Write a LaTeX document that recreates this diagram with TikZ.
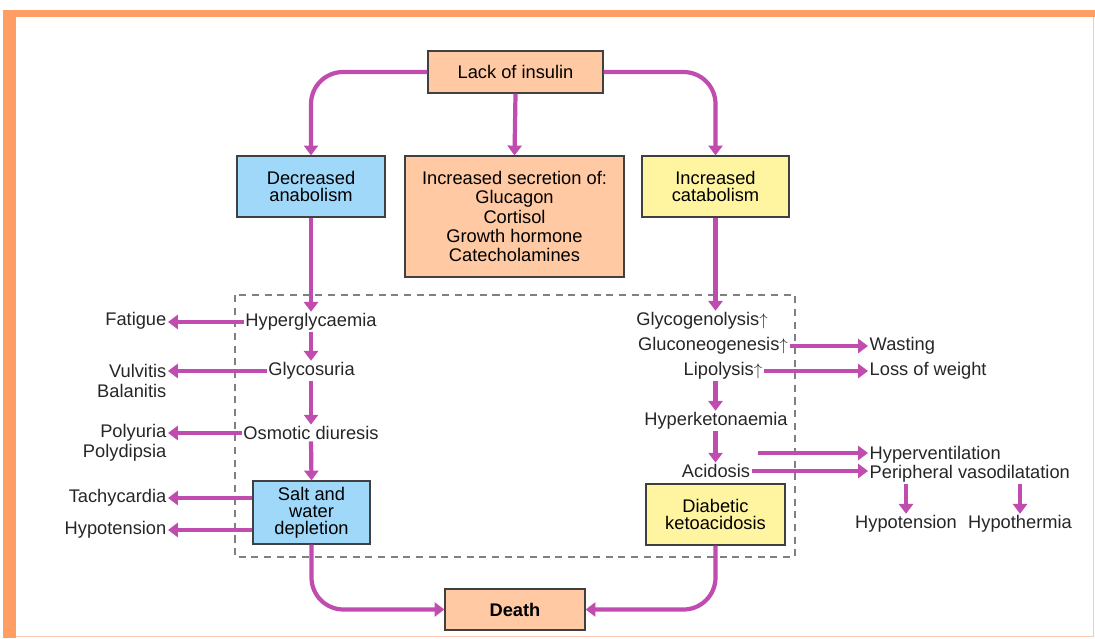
\documentclass[tikz,border=0pt]{standalone}
\usepackage{fontspec}
\setmainfont{Liberation Sans}
\usetikzlibrary{positioning, arrows.meta}

\definecolor{peach}{RGB}{255,201,163}
\definecolor{skyblue}{RGB}{160,216,250}
\definecolor{paleyellow}{RGB}{255,244,160}
\definecolor{arrowpink}{RGB}{192,76,176}
\definecolor{frameorange}{RGB}{255,158,100}
\definecolor{framepale}{RGB}{250,200,180}

\tikzset{
  box/.style={draw=black!75, line width=0.8pt, align=center, inner sep=0pt,
    font=\fontsize{13}{12}\selectfont},
  arr/.style={draw=arrowpink, line width=3pt, -{Triangle[length=7pt,width=10pt]}},
  lbl/.style={inner sep=1pt, font=\fontsize{13}{14.2}\selectfont, align=center, text=black!85},
  dashbox/.style={draw=black!50, line width=0.9pt, dash pattern=on 5pt off 4pt}
}

\begin{document}
\begin{tikzpicture}[x=0.025cm,y=-0.025cm]
  \useasboundingbox (0,0) rectangle (1095,638);
  % frame
  \fill[frameorange] (3,10) rectangle (1095,17);
  \fill[frameorange] (3,10) rectangle (16,638);
  \draw[framepale, line width=0.6pt] (1093,17) -- (1093,636) -- (16,636);

  % boxes
  \node[box, fill=peach, minimum width=4.375cm, minimum height=1.05cm] (lack) at (515.5,72) {Lack of insulin};
  \node[box, fill=skyblue, minimum width=3.7cm, minimum height=1.525cm] (dec) at (311,186.5) {Decreased\\anabolism};
  \node[box, fill=peach, minimum width=5.475cm, minimum height=3.025cm,
    font=\fontsize{13}{13.8}\selectfont] (sec) at (514.5,216.5)
    {Increased secretion of:\\Glucagon\\Cortisol\\Growth hormone\\Catecholamines};
  \node[box, fill=paleyellow, minimum width=3.675cm, minimum height=1.525cm] (cat) at (715.5,186.5) {Increased\\catabolism};
  \node[box, fill=skyblue, minimum width=2.925cm, minimum height=1.575cm] (salt) at (311.5,512.5) {Salt and\\water\\depletion};
  \node[box, fill=paleyellow, minimum width=3.475cm, minimum height=1.525cm] (dka) at (715.5,514.5) {Diabetic\\ketoacidosis};
  \node[box, fill=peach, minimum width=3.5cm, minimum height=1.025cm, font=\fontsize{13}{14}\bfseries] (death) at (515,609.5) {Death};

  \draw[dashbox] (235,295) rectangle (795,557);

  % left column
  \node[lbl] (hyperg) at (311,322) {Hyperglycaemia};
  \node[lbl] (glycos) at (311.5,371) {Glycosuria};
  \node[lbl] (osmo) at (311,433) {Osmotic diuresis};
  \node[lbl, anchor=east] (fatigue) at (168,321) {Fatigue};
  \node[lbl, anchor=east, align=right] (vulv) at (168,381) {Vulvitis\\Balanitis};
  \node[lbl, anchor=east, align=right] (poly) at (168,443) {Polyuria\\Polydipsia};
  \node[lbl, anchor=east] (tachy) at (168,498) {Tachycardia};
  \node[lbl, anchor=east] (hypoa) at (168,530) {Hypotension};

  % right column
  \node[lbl] (glycogen) at (702,321) {Glycogenolysis$\uparrow$};
  \node[lbl] (gluco) at (713,346) {Gluconeogenesis$\uparrow$};
  \node[lbl] (lipo) at (723,371) {Lipolysis$\uparrow$};
  \node[lbl] (hyperk) at (716,421) {Hyperketonaemia};
  \node[lbl] (acid) at (716,471) {Acidosis};
  \node[lbl, anchor=west] (wasting) at (868,346) {Wasting};
  \node[lbl, anchor=west] (loss) at (868,371) {Loss of weight};
  \node[lbl, anchor=west] (hypervent) at (868,455) {Hyperventilation};
  \node[lbl, anchor=west] (periph) at (868,474) {Peripheral vasodilatation};
  \node[lbl] (hypob) at (906,524) {Hypotension};
  \node[lbl] (hypotherm) at (1020,524) {Hypothermia};
  \coordinate (hv) at (758,453);

  % connectors from the top
  \draw[arr, rounded corners=0.8cm] (lack.west) -| (dec.north);
  \draw[arr] (lack.south) -- (sec.north);
  \draw[arr, rounded corners=0.8cm] (lack.east) -| (cat.north);

  % anabolism chain
  \draw[arr] (dec.south) -- (dec.south |- hyperg.north);
  \draw[arr] (hyperg.south -| dec.south) -- (glycos.north -| dec.south);
  \draw[arr] (glycos.south -| dec.south) -- (osmo.north -| dec.south);
  \draw[arr] (osmo.south -| dec.south) -- (salt.north);
  \draw[arr] (hyperg.west) -- (hyperg.west -| fatigue.east);
  \draw[arr] (glycos.west) -- (glycos.west -| vulv.east);
  \draw[arr] (osmo.west) -- (osmo.west -| poly.east);
  \draw[arr] (salt.west |- tachy) -- (tachy.east);
  \draw[arr] (salt.west |- hypoa) -- (hypoa.east);
  \draw[arr, rounded corners=0.8cm] (salt.south) |- (death.west);

  % catabolism chain
  \draw[arr] (cat.south) -- (cat.south |- glycogen.north);
  \draw[arr] (gluco.east) -- (wasting.west);
  \draw[arr] (lipo.east) -- (loss.west);
  \draw[arr] (lipo.south -| cat.south) -- (hyperk.north -| cat.south);
  \draw[arr] (hyperk.south -| cat.south) -- (acid.north -| cat.south);
  \draw[arr] (hv) -- (hv -| hypervent.west);
  \draw[arr] (acid.east) -- (acid.east -| periph.west);
  \draw[arr] (hypob.north |- periph.south) -- (hypob.north);
  \draw[arr] (hypotherm.north |- periph.south) -- (hypotherm.north);
  \draw[arr, rounded corners=0.8cm] (dka.south) |- (death.east);
\end{tikzpicture}
\end{document}
